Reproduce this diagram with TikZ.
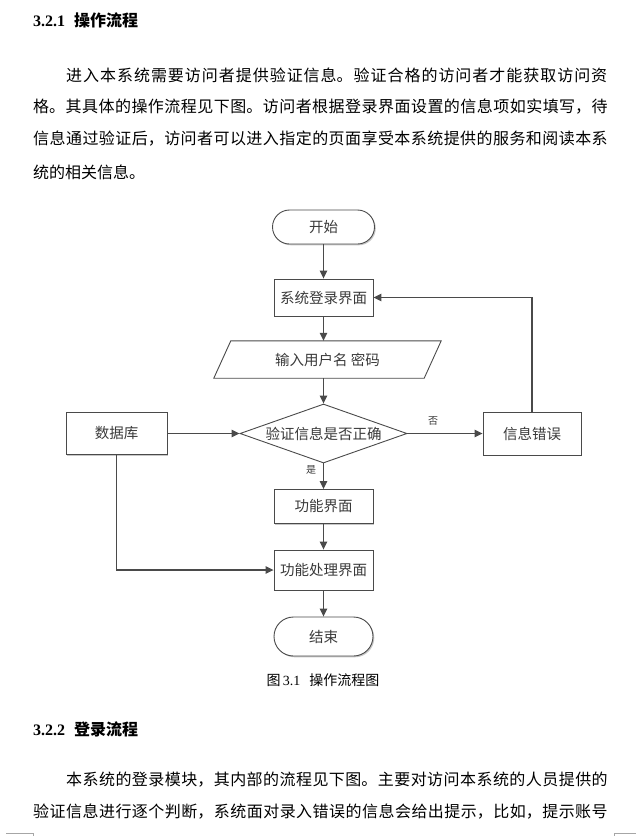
\documentclass[tikz,border=0pt]{standalone}
\usepackage{fontspec}
\setmainfont{Liberation Serif}
\newfontfamily\cjk{Noto Sans CJK SC}
\usetikzlibrary{arrows.meta,shapes.geometric,shapes.misc,shadows,calc}
\XeTeXlinebreaklocale "zh"
\XeTeXlinebreakskip=0pt plus 1pt
\definecolor{linec}{HTML}{4A4A4A}
\definecolor{txtc}{HTML}{3A3A3A}
\newcommand{\jline}[1]{\noindent\XeTeXlinebreakskip=0pt plus 1fil\parfillskip=0pt\relax #1}
\begin{document}
\begin{tikzpicture}[x=1pt,y=-1pt,
  body/.style={anchor=west,inner sep=0pt,font=\cjk\fontsize{16}{16}\selectfont},
  jbody/.style={body,text width=#1,align=justify},
  head/.style={anchor=west,inner sep=0pt,font=\fontsize{16}{16}\selectfont\bfseries},
  shad/.style={drop shadow={shadow xshift=1.3pt,shadow yshift=-1.3pt,fill=black,opacity=0.22}},
  boxs/.style={draw=linec,line width=0.9pt,fill=white,rectangle,minimum width=99pt,inner sep=0pt,text=txtc,font=\cjk\fontsize{14.5}{14.5}\selectfont,shad},
  term/.style={draw=linec,line width=0.9pt,fill=white,rounded rectangle,inner sep=0pt,text=txtc,font=\cjk\fontsize{14.5}{14.5}\selectfont,shad},
  dec/.style={draw=linec,line width=0.9pt,fill=white,diamond,aspect=2.83,inner sep=0pt,minimum width=167pt,minimum height=59pt,text=txtc,font=\cjk\fontsize{14.5}{14.5}\selectfont},
  lbl/.style={inner sep=0pt,text=txtc,font=\cjk\fontsize{10}{10}\selectfont},
  arr/.style={draw=linec,line width=1.1pt,-{Triangle[length=8pt,width=7.5pt]}}
]
\fill[white] (0,0) rectangle (636,836);
\useasboundingbox (0,0) rectangle (636,836);

% ---- section 3.2.1 ----
\node[head] (h1) at (33,20) {3.2.1\hspace{9pt}{\cjk\bfseries 操作流程}};
\node[jbody=542pt] (p1) at (66,75) {\jline{进入本系统需要访问者提供验证信息。验证合格的访问者才能获取访问资}};
\node[jbody=575pt] (p2) at (33,107) {\jline{格。其具体的操作流程见下图。访问者根据登录界面设置的信息项如实填写，待}};
\node[jbody=575pt] (p3) at (33,139) {\jline{信息通过验证后，访问者可以进入指定的页面享受本系统提供的服务和阅读本系}};
\node[body] (p4) at (33,172) {统的相关信息。};

% ---- flowchart ----
\node[term,minimum width=102pt,minimum height=34pt] (start) at (323.5,227) {开始};
\node[boxs,minimum height=37pt] (login) at (323.5,297.5) {系统登录界面};
\node[inner sep=0pt,minimum width=210pt,minimum height=37pt,text=txtc,font=\cjk\fontsize{14.5}{14.5}\selectfont] (inp) at (327.5,359.5) {输入用户名 密码};
\draw[draw=linec,line width=0.9pt] ($(inp.north west)+(8.5,0)$) -- ($(inp.north east)+(8.5,0)$) -- ($(inp.south east)+(-8.5,0)$) -- ($(inp.south west)+(-8.5,0)$) -- cycle;
\node[dec] (chk) at (323.5,433.5) {验证信息是否正确};
\node[boxs,minimum width=101pt,minimum height=42pt] (db) at (116.5,433.5) {数据库};
\node[boxs,minimum width=98pt,minimum height=43pt] (err) at (532,433.5) {信息错误};
\node[boxs,minimum height=34pt] (func) at (323.5,506.5) {功能界面};
\node[boxs,minimum height=40pt] (proc) at (323.5,570) {功能处理界面};
\node[term,minimum width=99pt,minimum height=39pt] (end) at (323.5,636.5) {结束};
\node[lbl] (no) at (433,421) {否};
\node[lbl] (yes) at (311,470) {是};
\node[inner sep=0pt,font=\fontsize{14}{14}\selectfont] (cap) at (323,680) {{\cjk 图}\,3.1\hspace{9pt}{\cjk 操作流程图}};

\draw[arr] (start.south) -- (login.north);
\draw[arr] (login.south) -- (login.south |- inp.north);
\draw[arr] (inp.south -| chk.north) -- (chk.north);
\draw[arr] (db.east) -- (chk.west);
\draw[arr] (chk.east) -- (err.west);
\draw[arr] (chk.south) -- (func.north);
\draw[arr] (func.south) -- (proc.north);
\draw[arr] (proc.south) -- (end.north);
\draw[arr] (err.north) |- (login.east);
\draw[arr] (db.south) |- (proc.west);

% ---- section 3.2.2 ----
\node[head] (h2) at (33,729) {3.2.2\hspace{9pt}{\cjk\bfseries 登录流程}};
\node[jbody=542pt] (q1) at (66,780) {\jline{本系统的登录模块，其内部的流程见下图。主要对访问本系统的人员提供的}};
\node[jbody=575pt] (q2) at (33,812) {\jline{验证信息进行逐个判断，系统面对录入错误的信息会给出提示，比如，提示账号}};

% page corner marks
\draw[black!35,line width=0.6pt] (6,833) -- (33,833) -- (33,836);
\draw[black!35,line width=0.6pt] (614,836) -- (614,833) -- (636,833);
\end{tikzpicture}
\end{document}
